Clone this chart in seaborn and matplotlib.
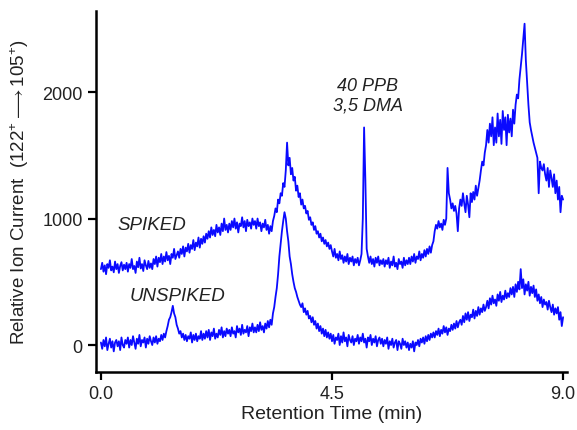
import numpy as np
import pandas as pd
import matplotlib
matplotlib.use("Agg")
import matplotlib.pyplot as plt
import seaborn as sns

# Retention time grid (min), 0.025 min sampling
time_min = [round(i * 0.025, 3) for i in range(361)]

# Spiked sample trace (relative ion current, 122+ -> 105+), one row per 0.5 min
spiked = [
    600, 650, 580, 630, 560, 640, 610, 670, 590, 620, 575, 660, 600, 640, 570, 625, 655, 590, 635, 600,
    650, 580, 640, 610, 680, 600, 625, 570, 660, 615, 690, 605, 640, 585, 670, 630, 600, 665, 610, 645,
    600, 680, 640, 700, 620, 690, 655, 720, 640, 700, 660, 735, 670, 705, 640, 720, 690, 760, 680, 710,
    740, 690, 760, 720, 780, 700, 770, 740, 800, 730, 790, 760, 830, 750, 810, 780, 850, 770, 840, 800,
    860, 810, 880, 840, 900, 850, 930, 870, 910, 860, 950, 890, 930, 870, 960, 900, 1000, 910, 950, 890,
    960, 910, 980, 930, 1000, 920, 970, 890, 960, 940, 1010, 930, 980, 900, 990, 940, 970, 920, 1000, 950,
    980, 920, 1000, 940, 970, 900, 960, 930, 990, 910, 950, 880, 940, 900, 980, 1020, 1080, 1050, 1150, 1120,
    1200, 1180, 1280, 1250, 1380, 1600, 1420, 1480, 1350, 1400, 1300, 1330, 1220, 1260, 1170, 1200, 1110, 1150, 1080, 1100,
    1040, 1060, 990, 1010, 950, 970, 910, 940, 880, 900, 850, 880, 820, 850, 800, 830, 780, 810, 760, 790,
    740, 700, 760, 690, 720, 670, 740, 680, 710, 650, 700, 660, 720, 640, 690, 660, 700, 630, 680, 650,
    690, 630, 670, 720, 1000, 1720, 1300, 760, 700, 650, 700, 640, 680, 620, 690, 650, 700, 630, 670, 640,
    680, 620, 670, 640, 690, 610, 660, 630, 700, 620, 650, 600, 680, 640, 660, 610, 690, 630, 670, 640,
    690, 640, 700, 660, 720, 650, 700, 680, 740, 670, 720, 690, 750, 700, 760, 720, 780, 730, 790, 820,
    900, 950, 920, 980, 930, 960, 910, 990, 950, 1000, 1400, 1200, 1150, 1080, 1120, 1060, 1100, 1040, 900, 1080,
    1150, 1100, 1200, 1120, 1050, 1180, 1110, 1010, 1200, 1130, 1210, 1150, 1260, 1180, 1240, 1300, 1380, 1450, 1420, 1520,
    1580, 1700, 1600, 1750, 1650, 1800, 1580, 1720, 1600, 1830, 1650, 1780, 1590, 1850, 1700, 1800, 1580, 1820, 1680, 1790,
    1650, 1860, 1750, 1900, 1980, 1950, 2100, 2200, 2300, 2420, 2540, 2250, 2080, 1900, 1760, 1700, 1650, 1600, 1560, 1520,
    1480, 1200, 1450, 1400, 1380, 1430, 1350, 1300, 1400, 1250, 1380, 1320, 1250, 1350, 1200, 1300, 1150, 1250, 1050, 1180,
    1150,
]

# Unspiked sample trace
unspiked = [
    20, -30, 40, -10, 60, -40, 10, 50, -20, 30, -50, 20, 40, -10, 30, -40, 60, 0, -20, 40,
    10, 60, -20, 40, 0, 70, 20, -30, 50, 10, 80, -10, 40, 20, 60, -20, 50, 10, 70, 30,
    0, 60, 20, 70, 10, 50, 30, 80, 40, 90, 60, 110, 150, 200, 220, 260, 310, 250, 220, 160,
    130, 90, 110, 60, 90, 40, 80, 30, 70, 50, 100, 20, 80, 40, 90, 30, 70, 50, 110, 40,
    90, 50, 110, 60, 120, 40, 100, 70, 130, 50, 90, 60, 120, 80, 140, 60, 110, 70, 130, 90,
    120, 70, 140, 90, 110, 60, 150, 100, 130, 80, 160, 90, 120, 100, 150, 70, 140, 110, 170, 100,
    140, 100, 160, 110, 180, 120, 150, 100, 170, 130, 190, 140, 200, 160, 250, 300, 380, 450, 560, 700,
    800, 900, 980, 1050, 1000, 900, 820, 700, 640, 560, 500, 450, 420, 380, 350, 320, 300, 330, 260, 290,
    240, 270, 210, 230, 180, 220, 160, 190, 130, 170, 110, 150, 90, 130, 70, 120, 60, 100, 50, 90,
    30, 80, 10, 60, 40, 90, 0, 70, 20, 100, 30, 60, -10, 80, 40, 20, 70, 0, 50, 30,
    80, 10, 60, 30, 90, 20, 50, -20, 60, 30, 80, 0, 50, 20, 70, -10, 40, 60, 10, 50,
    -10, 40, 10, 60, -30, 30, 0, 50, -20, 20, 40, -40, 30, 10, -30, 50, 0, 30, -20, 20,
    -40, 10, -20, 30, -50, 20, 0, 40, -10, 50, 20, 60, 10, 70, 30, 80, 40, 90, 60, 100,
    60, 110, 80, 130, 70, 120, 90, 150, 100, 140, 80, 130, 110, 160, 120, 170, 130, 190, 140, 180,
    200, 160, 230, 180, 250, 200, 260, 190, 240, 220, 280, 210, 270, 230, 300, 240, 290, 260, 320, 270,
    300, 350, 290, 370, 320, 390, 330, 360, 310, 400, 350, 420, 340, 390, 360, 430, 370, 410, 380, 450,
    400, 460, 380, 480, 420, 500, 440, 600, 450, 520, 400, 480, 430, 500, 390, 460, 410, 470, 380, 440,
    350, 400, 330, 380, 300, 360, 320, 340, 280, 350, 300, 260, 320, 240, 290, 250, 300, 200, 260, 150,
    220,
]

x_ticks = [0.0, 4.5, 9.0]
x_tick_labels = ["0.0", "4.5", "9.0"]
y_ticks = [0, 1000, 2000]
y_tick_labels = ["0", "1000", "2000"]

df = pd.DataFrame({
    "time": time_min * 2,
    "current": spiked + unspiked,
    "sample": ["SPIKED"] * len(spiked) + ["UNSPIKED"] * len(unspiked),
})

sns.set_style("ticks")
plt.rcParams["font.family"] = ["Liberation Sans", "DejaVu Sans"]
plt.rcParams["mathtext.fontset"] = "custom"
plt.rcParams["mathtext.rm"] = "Liberation Sans"
plt.rcParams["mathtext.it"] = "Liberation Sans:italic"

fig = plt.figure(figsize=(5.77, 4.31), dpi=100)
ax = fig.add_axes([0.166, 0.1346, 0.817, 0.8374])

sns.lineplot(data=df, x="time", y="current", hue="sample",
             palette={"SPIKED": "#0a0aff", "UNSPIKED": "#0a0aff"},
             linewidth=1.3, legend=False, ax=ax, estimator=None)

ax.set_xlim(-0.1, 9.08)
ax.set_ylim(-213, 2640)
ax.set_xticks(x_ticks)
ax.set_xticklabels(x_tick_labels)
ax.set_yticks(y_ticks)
ax.set_yticklabels(y_tick_labels)
ax.tick_params(axis="both", labelsize=13, length=6, width=1.6, color="black",
               labelcolor="#222222")

for side in ["top", "right"]:
    ax.spines[side].set_visible(False)
for side in ["left", "bottom"]:
    ax.spines[side].set_linewidth(1.8)
    ax.spines[side].set_color("black")

ax.set_xlabel("Retention Time (min)", fontsize=14, color="#222222", labelpad=2)
ax.set_ylabel(r"Relative Ion Current  (122$^{+}$$\longrightarrow$105$^{+}$)",
              fontsize=13.5, color="#222222", labelpad=8)

ax.text(0.33, 950, "SPIKED", fontsize=13.5, style="italic", ha="left",
        va="center", color="#222222")
ax.text(0.56, 390, "UNSPIKED", fontsize=13.5, style="italic", ha="left",
        va="center", color="#222222")
ax.text(5.2, 1975, "40 PPB\n3,5 DMA", fontsize=13, style="italic",
        ha="center", va="center", color="#222222", linespacing=1.2)

fig.savefig("out.png", dpi=100)
